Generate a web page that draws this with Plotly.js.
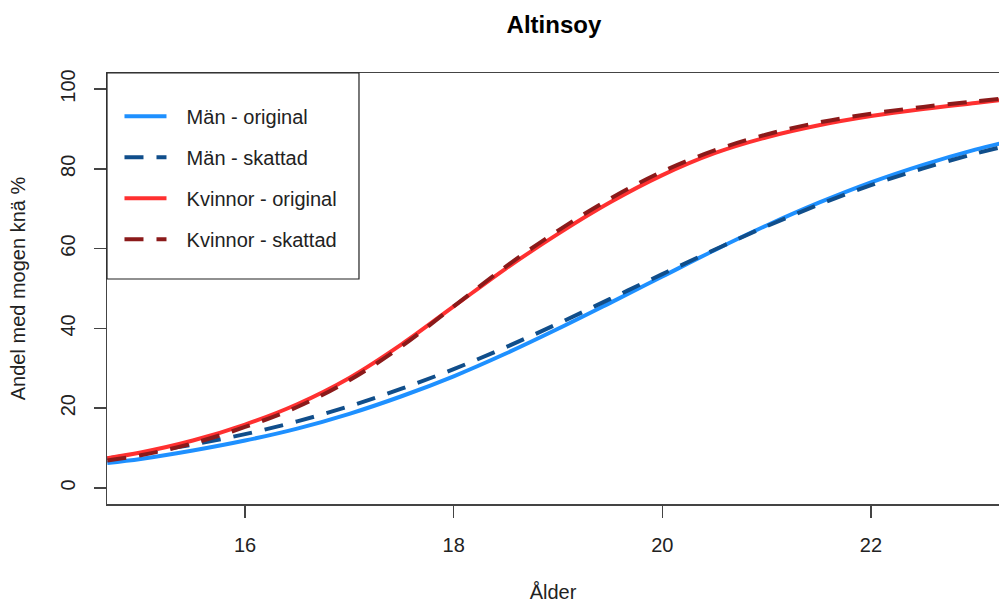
<!DOCTYPE html>
<html>
<head>
<meta charset="utf-8">
<script src="https://cdn.plot.ly/plotly-3.0.1.min.js"></script>
<style>html,body{margin:0;padding:0;background:#fff;}#chart{width:999px;height:605px;}</style>
</head>
<body>
<div id="chart"></div>
<script>
// Age (years)
const age = [14.68, 15, 15.5, 16, 16.5, 17, 17.5, 18, 18.5, 19, 19.5, 20, 20.5, 21, 21.5, 22, 22.5, 23, 23.23];
// Share with mature knee (%)
const menOriginal   = [6.3, 7.3, 9.4, 11.9, 14.9, 18.6, 23.0, 28.0, 33.7, 39.9, 46.4, 53.0, 59.6, 65.8, 71.5, 76.6, 81.0, 84.8, 86.3];
const menEstimated  = [7.4, 8.7, 10.9, 13.5, 16.7, 20.5, 24.9, 29.8, 35.3, 41.2, 47.4, 53.6, 59.7, 65.6, 71.0, 75.9, 80.1, 83.8, 85.3];
const womenOriginal = [7.5, 8.9, 11.9, 15.9, 21.0, 27.6, 36.0, 45.5, 55.0, 63.7, 71.6, 78.4, 83.9, 87.9, 90.9, 93.2, 95.0, 96.5, 97.2];
const womenEstimated= [6.9, 8.2, 11.2, 15.3, 20.3, 27.0, 35.5, 45.5, 55.5, 64.5, 72.5, 79.3, 84.6, 88.6, 91.6, 93.8, 95.5, 96.9, 97.5];
const seriesNames = ['Män - original', 'Män - skattad', 'Kvinnor - original', 'Kvinnor - skattad'];
const xTicks = [16, 18, 20, 22];
const yTicks = [0, 20, 40, 60, 80, 100];

const font = 'Liberation Sans, Arial, sans-serif';
const dashPat = '19px,13px';
const pad = '\u00a0\u00a0\u2009';
function tr(y, name, color, dash, grp) {
  return {x: age, y: y, name: pad + name, type: 'scatter', mode: 'lines', legendgroup: grp,
    line: {color: color, width: 4, dash: dash, shape: 'spline'}, hoverinfo: 'skip'};
}
const data = [
  tr(menOriginal, seriesNames[0], '#1E90FF', 'solid', 'a'),
  tr(menEstimated, seriesNames[1], '#104E8B', dashPat, 'b'),
  tr(womenOriginal, seriesNames[2], '#FF3030', 'solid', 'c'),
  tr(womenEstimated, seriesNames[3], '#8B1A1A', dashPat, 'd')
];
const layout = {
  width: 999, height: 605,
  margin: {l: 107, r: 0, t: 73, b: 101},
  paper_bgcolor: '#fff', plot_bgcolor: '#fff',
  font: {family: font, size: 20, color: '#000'},
  title: {text: '<b>Altinsoy</b>', font: {family: font, size: 24, color: '#000'}, x: 0.5545, xanchor: 'center', y: 0.96, yanchor: 'middle'},
  xaxis: {range: [14.677, 23.227], tickvals: xTicks, ticktext: xTicks.map(String), showgrid: false, zeroline: false,
    showline: true, linecolor: '#444', linewidth: 1.5, mirror: true, ticks: 'outside', ticklen: 12, tickcolor: '#444', tickwidth: 1.5,
    ticklabelstandoff: 10, tickfont: {size: 20, color: '#222'},
    title: {text: 'Ålder', font: {size: 20, color: '#222'}, standoff: 30}},
  yaxis: {range: [-4, 104], tickvals: yTicks, ticktext: yTicks.map(String), showgrid: false, zeroline: false,
    showline: true, linecolor: '#444', linewidth: 1.5, ticks: 'outside', ticklen: 12, tickcolor: '#444', tickwidth: 1.5,
    tickangle: -90, ticklabelstandoff: 11, tickfont: {size: 20, color: '#222'},
    title: {text: 'Andel med mogen knä %', font: {size: 20, color: '#222'}, standoff: 25}},
  showlegend: true,
  legend: {x: 0.014, y: 0.945, xanchor: 'left', yanchor: 'top', bgcolor: 'rgba(0,0,0,0)', borderwidth: 0,
    font: {size: 20, color: '#222'}, tracegroupgap: 12, itemwidth: 42, traceorder: 'grouped'},
  shapes: [{type: 'rect', xref: 'paper', yref: 'paper', x0: 0, x1: 0.2825, y0: 0.522, y1: 1,
    line: {color: '#222', width: 1.2}, fillcolor: 'rgba(0,0,0,0)', layer: 'above'}]
};
Plotly.newPlot('chart', data, layout, {staticPlot: true, displayModeBar: false});
</script>
</body>
</html>
